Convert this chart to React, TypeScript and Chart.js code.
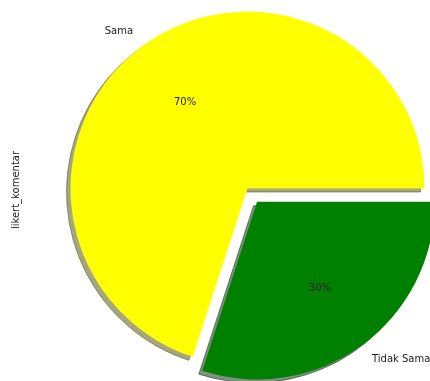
import React, { useEffect, useRef } from "react";
import { Chart, registerables } from "chart.js";

Chart.register(...registerables);

const labels = ["Sama", "Tidak Sama"];
const values = [70, 30];
const sliceColors = ["#ffff00", "#008000"];
const shadowColors = ["rgba(77,77,0,0.5)", "rgba(0,38,0,0.5)"];
const explodeOffsets = [0, 65];
const yAxisTitle = "likert_komentar";

const FONT = '10px "DejaVu Sans", sans-serif';
const TEXT_COLOR = "#1a1a1a";
const SHADOW_DX = -4;
const SHADOW_DY = 3.5;

function arcShift(arc: any): [number, number] {
  const off = (arc.options.offset || 0) / 4;
  const half = (arc.startAngle + arc.endAngle) / 2;
  const fix = 1 - Math.sin(Math.min(Math.PI, arc.circumference || 0));
  const t = off + off * fix;
  return [Math.cos(half) * t, Math.sin(half) * t];
}

const mplPiePlugin = {
  id: "mplPie",
  beforeDatasetsDraw(chart: any) {
    const ctx = chart.ctx as CanvasRenderingContext2D;
    const meta = chart.getDatasetMeta(0);
    meta.data.forEach((arc: any, i: number) => {
      const [dx, dy] = arcShift(arc);
      const { x, y, startAngle, endAngle, outerRadius } = arc;
      ctx.save();
      ctx.translate(dx + SHADOW_DX, dy + SHADOW_DY);
      ctx.beginPath();
      ctx.moveTo(x, y);
      ctx.arc(x, y, outerRadius, startAngle, endAngle);
      ctx.closePath();
      ctx.fillStyle = shadowColors[i];
      ctx.fill();
      ctx.lineWidth = 1;
      ctx.strokeStyle = shadowColors[i];
      ctx.stroke();
      ctx.restore();
    });
  },
  afterDatasetsDraw(chart: any) {
    const ctx = chart.ctx as CanvasRenderingContext2D;
    const meta = chart.getDatasetMeta(0);
    const total = values.reduce((a, b) => a + b, 0);
    ctx.save();
    ctx.font = FONT;
    ctx.fillStyle = TEXT_COLOR;
    ctx.textBaseline = "middle";
    meta.data.forEach((arc: any, i: number) => {
      const [dx, dy] = arcShift(arc);
      const cx = arc.x + dx;
      const cy = arc.y + dy;
      const r = arc.outerRadius;
      const half = (arc.startAngle + arc.endAngle) / 2;
      const c = Math.cos(half);
      const s = Math.sin(half);
      ctx.textAlign = c < 0 ? "right" : "left";
      ctx.fillText(labels[i], cx + c * r * 1.1, cy + s * r * 1.1);
      ctx.textAlign = "center";
      const pct = `${Math.round((values[i] / total) * 100)}%`;
      ctx.fillText(pct, cx + c * r * 0.6, cy + s * r * 0.6);
    });
    ctx.translate(16, 190);
    ctx.rotate(-Math.PI / 2);
    ctx.textAlign = "center";
    ctx.fillText(yAxisTitle, 0, 0);
    ctx.restore();
  },
};

export default function App() {
  const ref = useRef<HTMLCanvasElement | null>(null);
  useEffect(() => {
    if (!ref.current) return;
    const chart = new Chart(ref.current, {
      type: "pie",
      data: {
        labels,
        datasets: [
          {
            data: values,
            backgroundColor: sliceColors,
            borderWidth: 0,
            offset: explodeOffsets,
          } as any,
        ],
      },
      options: {
        animation: false,
        responsive: false,
        devicePixelRatio: 1,
        events: [],
        rotation: 198,
        radius: 177,
        layout: { padding: { left: 65, right: 0, top: 0, bottom: 4 } },
        plugins: {
          legend: { display: false },
          tooltip: { enabled: false },
          title: { display: false },
        },
      } as any,
      plugins: [mplPiePlugin],
    });
    return () => chart.destroy();
  }, []);
  return (
    <div style={{ position: "absolute", left: 0, top: 0, width: 430, height: 381, background: "#fff" }}>
      <canvas ref={ref} width={430} height={381} style={{ display: "block" }} />
    </div>
  );
}
